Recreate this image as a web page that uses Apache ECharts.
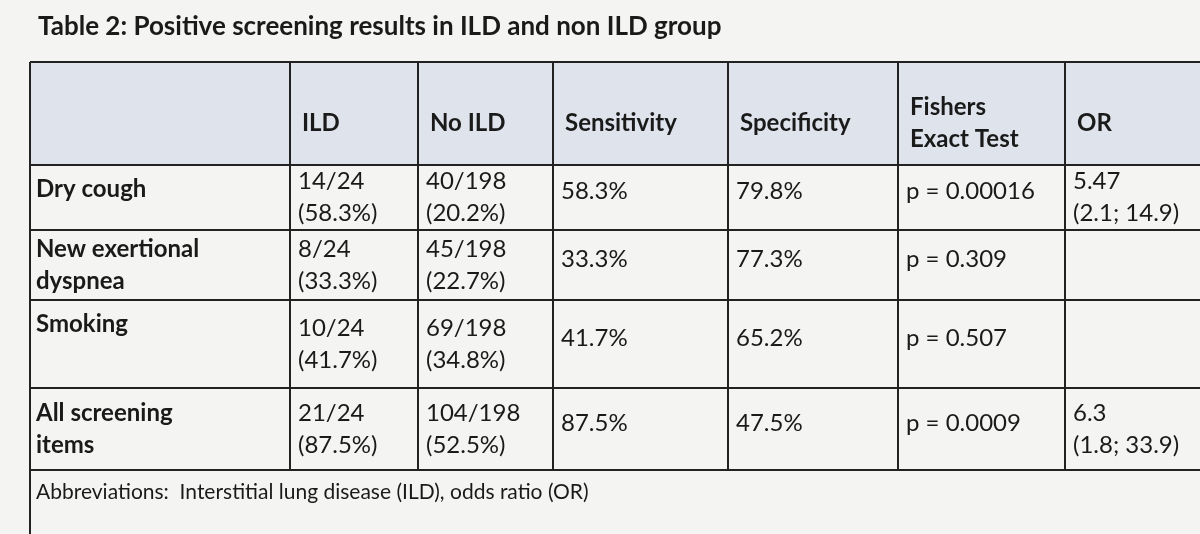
<!DOCTYPE html>
<html>
<head>
<meta charset="UTF-8">
<title>Table 2</title>
<script src="https://cdn.jsdelivr.net/npm/echarts/dist/echarts.min.js"></script>
<style>
html, body { margin: 0; padding: 0; background: #f4f4f2; }
#main { width: 1200px; height: 534px; }
</style>
</head>
<body>
<div id="main"></div>
<script type="text/javascript">
// table content
const title = 'Table 2: Positive screening results in ILD and non ILD group';
const headers = ['', 'ILD', 'No ILD', 'Sensitivity', 'Specificity', 'Fishers\nExact Test', 'OR'];
const rowLabels = ['Dry cough', 'New exertional\ndyspnea', 'Smoking', 'All screening\nitems'];
const ildValues = ['14/24\n(58.3%)', '8/24\n(33.3%)', '10/24\n(41.7%)', '21/24\n(87.5%)'];
const noIldValues = ['40/198\n(20.2%)', '45/198\n(22.7%)', '69/198\n(34.8%)', '104/198\n(52.5%)'];
const sensitivity = ['58.3%', '33.3%', '41.7%', '87.5%'];
const specificity = ['79.8%', '77.3%', '65.2%', '47.5%'];
const fisher = ['p = 0.00016', 'p = 0.309', 'p = 0.507', 'p = 0.0009'];
const oddsRatio = ['5.47\n(2.1; 14.9)', '', '', '6.3\n(1.8; 33.9)'];
const footnote = 'Abbreviations:  Interstitial lung disease (ILD), odds ratio (OR)';

// layout
const colX = [30, 290, 418, 553, 728, 898, 1065, 1215];
const rowY = [62, 165, 230, 300, 388, 470];
const font = 'Lato, "Open Sans", sans-serif';

var myChart = echarts.init(document.getElementById('main'));
const els = [];

els.push({ type: 'text', left: 38, top: 14, style: { text: title, font: 'bold 26px ' + font, fill: '#1a1a1a' } });

// header background
els.push({ type: 'rect', shape: { x: colX[0], y: rowY[0], width: colX[7] - colX[0], height: rowY[1] - rowY[0] }, style: { fill: '#dfe4ec' } });

const columns = [rowLabels, ildValues, noIldValues, sensitivity, specificity, fisher, oddsRatio];

// header texts
headers.forEach((h, c) => {
    if (!h) return;
    els.push({ type: 'text', x: colX[c] + 12, y: (rowY[0] + rowY[1]) / 2 + 10,
        style: { text: h, font: 'bold 24px ' + font, fill: '#1a1a1a', verticalAlign: 'middle', lineHeight: 32 } });
});

// body texts
columns.forEach((col, c) => {
    col.forEach((t, r) => {
        const multi = t.indexOf('\n') >= 0;
        const y0 = rowY[r + 1], y1 = rowY[r + 2];
        els.push({ type: 'text', x: colX[c] + (c === 0 ? 6 : 8),
            y: c === 0 && !multi ? y0 + 24 : (multi ? (y0 + y1) / 2 : (y0 + y1) / 2 - 6),
            style: { text: t, font: (c === 0 ? 'bold ' : '') + '24px ' + font, fill: '#1a1a1a',
                verticalAlign: 'middle', lineHeight: 32 } });
    });
});

// grid lines
rowY.forEach(y => {
    els.push({ type: 'line', shape: { x1: colX[0], y1: y, x2: colX[7], y2: y }, style: { stroke: '#222', lineWidth: 2 } });
});
colX.forEach((x, i) => {
    els.push({ type: 'line', shape: { x1: x, y1: rowY[0], x2: x, y2: i === 0 ? 534 : rowY[5] }, style: { stroke: '#222', lineWidth: 2 } });
});

els.push({ type: 'text', x: colX[0] + 6, y: 492, style: { text: footnote, font: '21px ' + font, fill: '#1a1a1a', verticalAlign: 'middle' } });

myChart.setOption({ backgroundColor: '#f4f4f2', graphic: { elements: els } });
</script>
</body>
</html>
